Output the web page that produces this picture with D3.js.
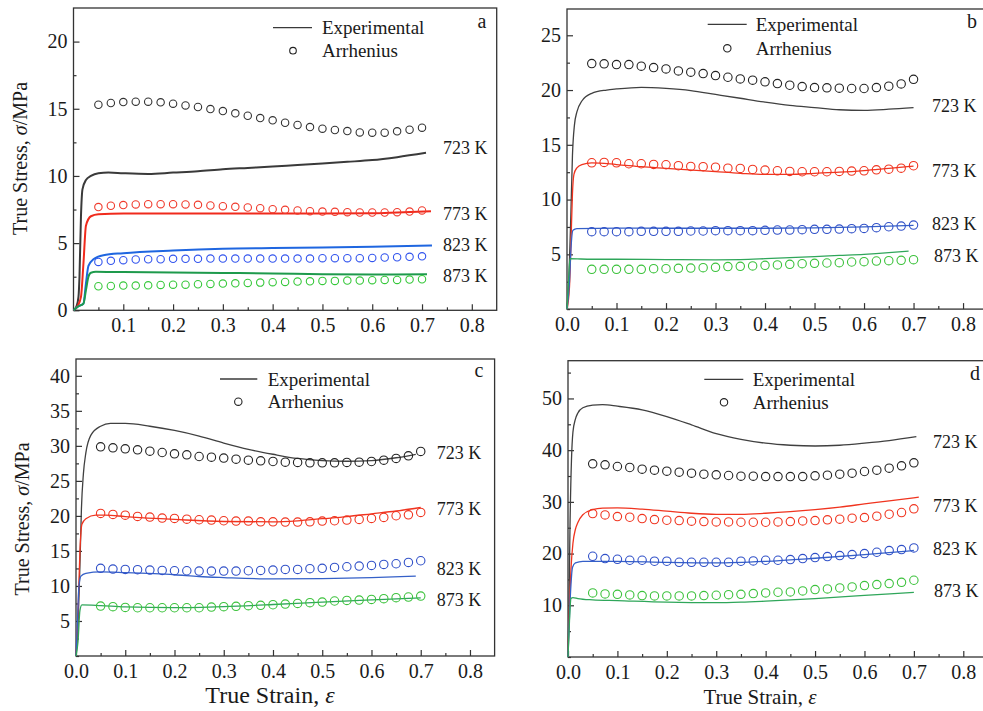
<!DOCTYPE html>
<html>
<head>
<meta charset="utf-8">
<script src="https://cdn.jsdelivr.net/npm/d3@7"></script>
<style>
  body { margin: 0; background: #fff; }
  svg { display: block; }
</style>
</head>
<body>
<div id="container"></div>
<script>
/* DATA */
const temps = ["723 K", "773 K", "823 K", "873 K"];
// strain values where the Arrhenius model was evaluated
const arrStrain = [0.05, 0.075, 0.1, 0.125, 0.15, 0.175, 0.2, 0.225, 0.25, 0.275, 0.3, 0.325, 0.35,
  0.375, 0.4, 0.425, 0.45, 0.475, 0.5, 0.525, 0.55, 0.575, 0.6, 0.625, 0.65, 0.675, 0.7];

// panel a - experimental [strain, stress]
const a_exp723 = [[0,0],[0.006,0.3],[0.01,1.0],[0.012,2.5],[0.015,7],[0.018,9],[0.025,9.7],[0.035,10.0],[0.05,10.2],[0.07,10.25],[0.1,10.2],[0.15,10.15],[0.2,10.25],[0.25,10.35],[0.3,10.5],[0.35,10.6],[0.4,10.7],[0.45,10.82],[0.5,10.93],[0.55,11.05],[0.6,11.18],[0.65,11.4],[0.708,11.72]];
const a_exp773 = [[0,0],[0.008,0.3],[0.015,1.0],[0.02,3.5],[0.025,6.3],[0.035,7.0],[0.05,7.15],[0.1,7.2],[0.2,7.2],[0.3,7.2],[0.4,7.2],[0.5,7.2],[0.6,7.22],[0.65,7.28],[0.718,7.38]];
const a_exp823 = [[0,0],[0.01,0.3],[0.02,0.5],[0.025,2.0],[0.03,3.3],[0.04,3.8],[0.06,4.1],[0.1,4.25],[0.2,4.45],[0.3,4.58],[0.4,4.63],[0.5,4.68],[0.6,4.73],[0.72,4.82]];
const a_exp873 = [[0,0],[0.01,0.3],[0.02,0.5],[0.025,1.5],[0.03,2.5],[0.035,2.8],[0.045,2.86],[0.1,2.85],[0.2,2.82],[0.3,2.78],[0.4,2.74],[0.5,2.68],[0.6,2.66],[0.71,2.68]];
// panel a - Arrhenius
const a_arr723 = [15.30,15.43,15.50,15.53,15.53,15.48,15.38,15.25,15.13,14.98,14.83,14.66,14.48,14.31,14.14,13.96,13.79,13.64,13.52,13.42,13.34,13.24,13.22,13.22,13.32,13.44,13.59];
const a_arr773 = [7.68,7.78,7.83,7.88,7.90,7.90,7.90,7.88,7.85,7.80,7.75,7.70,7.65,7.60,7.53,7.48,7.43,7.38,7.35,7.33,7.30,7.28,7.28,7.28,7.30,7.35,7.43];
const a_arr823 = [3.60,3.68,3.73,3.78,3.80,3.80,3.83,3.83,3.83,3.85,3.85,3.85,3.85,3.85,3.85,3.85,3.85,3.85,3.88,3.88,3.88,3.88,3.90,3.93,3.95,3.98,4.02];
const a_arr873 = [1.79,1.81,1.84,1.84,1.86,1.89,1.91,1.91,1.94,1.96,1.99,2.01,2.04,2.06,2.09,2.11,2.14,2.16,2.19,2.19,2.21,2.21,2.24,2.26,2.26,2.29,2.31];

// panel b
const b_exp723 = [[0,0],[0.004,3],[0.008,9],[0.011,14],[0.015,16.8],[0.02,18],[0.03,19],[0.05,19.7],[0.08,20.0],[0.1,20.1],[0.15,20.25],[0.2,20.15],[0.25,19.95],[0.3,19.6],[0.35,19.25],[0.4,18.9],[0.45,18.6],[0.5,18.4],[0.55,18.2],[0.6,18.15],[0.65,18.25],[0.7,18.4]];
const b_exp773 = [[0,0],[0.005,2],[0.008,6],[0.011,10.5],[0.014,12.3],[0.02,12.9],[0.03,13.2],[0.05,13.35],[0.1,13.2],[0.15,13.0],[0.2,12.85],[0.3,12.55],[0.35,12.4],[0.4,12.3],[0.45,12.3],[0.5,12.4],[0.55,12.5],[0.6,12.65],[0.65,12.85],[0.7,13.05]];
const b_exp823 = [[0,0],[0.005,2.5],[0.008,5.5],[0.012,7.2],[0.02,7.35],[0.1,7.4],[0.2,7.38],[0.3,7.38],[0.4,7.38],[0.5,7.42],[0.6,7.5],[0.7,7.65]];
const b_exp873 = [[0,0],[0.003,2.5],[0.006,4.6],[0.05,4.55],[0.1,4.55],[0.2,4.52],[0.3,4.5],[0.35,4.52],[0.4,4.6],[0.45,4.7],[0.5,4.8],[0.55,4.9],[0.6,5.0],[0.65,5.15],[0.69,5.3]];
const b_arr723 = [22.42,22.39,22.33,22.33,22.18,22.05,21.93,21.75,21.63,21.50,21.32,21.17,21.02,20.90,20.75,20.59,20.44,20.32,20.23,20.20,20.17,20.14,20.14,20.23,20.35,20.56,20.98];
const b_arr773 = [13.36,13.39,13.36,13.27,13.27,13.21,13.18,13.09,13.03,13.00,12.96,12.87,12.84,12.75,12.69,12.63,12.57,12.54,12.54,12.54,12.57,12.60,12.63,12.72,12.78,12.87,13.09];
const b_arr823 = [7.07,7.07,7.07,7.07,7.10,7.10,7.10,7.10,7.13,7.13,7.16,7.16,7.16,7.16,7.19,7.22,7.22,7.25,7.28,7.28,7.31,7.34,7.37,7.43,7.52,7.58,7.67];
const b_arr873 = [3.63,3.63,3.63,3.63,3.63,3.69,3.69,3.72,3.75,3.78,3.81,3.88,3.91,3.94,4.00,4.03,4.09,4.15,4.18,4.21,4.24,4.30,4.33,4.39,4.42,4.45,4.51];

// panel c
const c_exp723 = [[0,0],[0.004,4],[0.008,13],[0.011,21],[0.015,26],[0.02,29],[0.03,31.5],[0.05,32.8],[0.07,33.2],[0.1,33.2],[0.15,32.8],[0.2,32.2],[0.25,31.4],[0.3,30.4],[0.35,29.5],[0.4,28.8],[0.45,28.2],[0.5,27.9],[0.55,27.8],[0.6,27.9],[0.65,28.3],[0.69,28.8]];
const c_exp773 = [[0,0],[0.004,6],[0.008,15],[0.012,18.8],[0.02,19.6],[0.04,20.1],[0.06,20.1],[0.1,19.9],[0.2,19.5],[0.3,19.2],[0.4,19.15],[0.45,19.3],[0.5,19.6],[0.55,19.9],[0.6,20.3],[0.65,20.7],[0.7,21.2]];
const c_exp823 = [[0,0],[0.003,5],[0.006,10],[0.01,11.4],[0.02,11.8],[0.05,12.0],[0.1,11.9],[0.2,11.6],[0.25,11.35],[0.3,11.2],[0.4,11.0],[0.5,11.05],[0.6,11.2],[0.69,11.4]];
const c_exp873 = [[0,0],[0.004,2],[0.008,6.5],[0.012,7.3],[0.05,7.2],[0.1,7.0],[0.2,6.9],[0.3,7.05],[0.4,7.35],[0.5,7.7],[0.6,8.0],[0.7,8.3]];
const c_arr723 = [29.86,29.72,29.58,29.43,29.24,29.05,28.86,28.72,28.48,28.39,28.25,28.10,27.96,27.87,27.77,27.67,27.63,27.58,27.58,27.58,27.63,27.67,27.77,27.96,28.20,28.58,29.20];
const c_arr773 = [20.35,20.21,20.11,19.92,19.83,19.69,19.64,19.54,19.45,19.40,19.31,19.26,19.26,19.16,19.16,19.12,19.12,19.16,19.26,19.31,19.40,19.50,19.64,19.78,20.02,20.16,20.49];
const c_arr823 = [12.51,12.41,12.36,12.32,12.27,12.22,12.17,12.17,12.13,12.13,12.13,12.13,12.17,12.22,12.27,12.36,12.36,12.46,12.51,12.65,12.74,12.84,12.93,13.08,13.17,13.36,13.60];
const c_arr873 = [7.13,7.04,6.94,6.89,6.89,6.89,6.89,6.89,6.89,6.99,7.04,7.09,7.18,7.23,7.32,7.42,7.51,7.61,7.70,7.85,7.94,7.99,8.08,8.18,8.32,8.42,8.56];

// panel d
const d_exp723 = [[0,0],[0.002,10],[0.004,25],[0.007,38],[0.01,43.5],[0.015,46],[0.02,47.2],[0.03,48.2],[0.05,48.7],[0.07,48.8],[0.1,48.5],[0.15,47.8],[0.2,46.5],[0.25,44.9],[0.3,43.2],[0.35,42.1],[0.4,41.35],[0.45,40.95],[0.5,40.8],[0.55,40.95],[0.6,41.35],[0.65,41.85],[0.705,42.6]];
const d_exp773 = [[0,0],[0.003,10],[0.006,17],[0.01,22],[0.015,24.7],[0.02,26],[0.03,27.5],[0.05,28.5],[0.07,28.8],[0.1,28.85],[0.15,28.6],[0.2,28.2],[0.25,27.8],[0.3,27.6],[0.35,27.6],[0.4,27.8],[0.45,28.1],[0.5,28.5],[0.55,29.0],[0.6,29.6],[0.65,30.2],[0.71,30.9]];
const d_exp823 = [[0,0],[0.003,8],[0.006,14],[0.009,17.3],[0.015,18.2],[0.03,18.5],[0.1,18.5],[0.2,18.3],[0.3,18.2],[0.4,18.5],[0.5,19.1],[0.6,19.8],[0.7,20.6]];
const d_exp873 = [[0,0],[0.003,7],[0.006,11.3],[0.01,11.5],[0.02,11.3],[0.05,11.05],[0.1,10.9],[0.2,10.6],[0.3,10.5],[0.35,10.6],[0.4,10.8],[0.5,11.3],[0.6,11.9],[0.7,12.5]];
const d_arr723 = [37.35,37.16,36.84,36.65,36.32,36.13,35.94,35.74,35.55,35.35,35.23,35.10,34.97,34.97,34.90,34.90,34.90,34.90,35.03,35.16,35.35,35.55,35.87,36.13,36.52,36.97,37.55];
const d_arr773 = [27.74,27.48,27.16,27.03,26.77,26.58,26.45,26.39,26.26,26.19,26.13,26.13,26.06,26.06,26.06,26.13,26.19,26.32,26.39,26.52,26.65,26.84,26.97,27.23,27.61,27.94,28.65];
const d_arr823 = [19.48,19.03,18.90,18.71,18.71,18.52,18.52,18.32,18.32,18.32,18.32,18.32,18.52,18.58,18.71,18.71,18.84,19.03,19.23,19.42,19.61,19.81,20.00,20.26,20.58,20.77,21.10];
const d_arr873 = [12.39,12.19,12.13,12.00,11.87,11.81,11.81,11.81,11.81,11.87,11.94,12.06,12.13,12.26,12.39,12.52,12.58,12.77,13.03,13.16,13.35,13.55,13.81,14.00,14.19,14.45,14.84];

const xTicks = [0, 0.1, 0.2, 0.3, 0.4, 0.5, 0.6, 0.7, 0.8];

/* STYLES */
const SERIF = "'Liberation Serif', 'Times New Roman', serif";
const TXT = "#1a1a1a";
const lineColA = ["#3a3a3a", "#f02a1c", "#1f66e0", "#1e9a4c"];
const lineCol = ["#404040", "#f0341f", "#3560c8", "#2fa65a"];
const dotColA = ["#333333", "#f03a2c", "#3355ee", "#36c83a"];
const dotCol = ["#222222", "#f0341f", "#3050c8", "#3cc23c"];

/* PANEL LAYOUT */
const panels = [
  { name: "a", box: {l: 73.5, r: 496.7, t: 8, b: 310.3}, yMax: 22.5,
    yTicks: [0, 5, 10, 15, 20], yMinor: 2.5, xTickVals: xTicks.slice(1),
    exp: [a_exp723, a_exp773, a_exp823, a_exp873], arr: [a_arr723, a_arr773, a_arr823, a_arr873],
    lc: lineColA, dc: dotColA, lw: 2, r: 3.7,
    leg: {x1: 273, x2: 312, ly: 27.7, tx: 322, cx: 293, cy: 50.7, cr: 3.3},
    tag: {x: 482, y: 28},
    tl: {x: [443, 443, 443, 443], y: [154, 220, 251, 282]},
    ylab: {x: 20, y: 158.5} },
  { name: "b", box: {l: 567, r: 987.8, t: 9, b: 309.1}, yMax: 27.4,
    yTicks: [5, 10, 15, 20, 25], yMinor: 2.5, xTickVals: xTicks,
    exp: [b_exp723, b_exp773, b_exp823, b_exp873], arr: [b_arr723, b_arr773, b_arr823, b_arr873],
    lc: lineCol, dc: dotCol, lw: 1.3, r: 4.2,
    leg: {x1: 707.7, x2: 746.7, ly: 24.3, tx: 755.7, cx: 727.3, cy: 48.3, cr: 3.7},
    tag: {x: 972, y: 28},
    tl: {x: [932, 932, 932, 934], y: [112, 177, 229.5, 262]} },
  { name: "c", box: {l: 76, r: 494.6, t: 359, b: 656}, yMax: 42.4,
    yTicks: [5, 10, 15, 20, 25, 30, 35, 40], yMinor: 2.5, xTickVals: xTicks,
    exp: [c_exp723, c_exp773, c_exp823, c_exp873], arr: [c_arr723, c_arr773, c_arr823, c_arr873],
    lc: lineCol, dc: dotCol, lw: 1.3, r: 4.2,
    leg: {x1: 220, x2: 257.3, ly: 379, tx: 267.7, cx: 238.3, cy: 401.7, cr: 3.7},
    tag: {x: 479, y: 377},
    tl: {x: [436.7, 436.7, 436.7, 436.7], y: [458.5, 514.5, 574.5, 605.5]},
    ylab: {x: 21.7, y: 519}, xlab: {x: 270, y: 703, size: 24} },
  { name: "d", box: {l: 568, r: 988, t: 360.7, b: 657}, yMax: 57.3,
    yTicks: [10, 20, 30, 40, 50], yMinor: 5, xTickVals: xTicks,
    exp: [d_exp723, d_exp773, d_exp823, d_exp873], arr: [d_arr723, d_arr773, d_arr823, d_arr873],
    lc: lineCol, dc: dotCol, lw: 1.3, r: 4.2,
    leg: {x1: 704.3, x2: 743.3, ly: 379.3, tx: 752.7, cx: 724, cy: 402.3, cr: 3.7},
    tag: {x: 975, y: 380},
    tl: {x: [933, 933, 933, 934], y: [448, 512, 555, 597]},
    xlab: {x: 760, y: 704, size: 21} }
];

/* SVG */
const svg = d3.select("#container")
  .append("svg")
    .attr("width", 983)
    .attr("height", 711)
    .attr("font-family", SERIF);

panels.forEach(p => {
  const x = d3.scaleLinear().domain([0, 0.85]).range([p.box.l, p.box.r]);
  const y = d3.scaleLinear().domain([0, p.yMax]).range([p.box.b, p.box.t]);
  const g = svg.append("g");

  // frame
  g.append("rect")
    .attr("x", p.box.l).attr("y", p.box.t)
    .attr("width", p.box.r - p.box.l).attr("height", p.box.b - p.box.t)
    .attr("fill", "none").attr("stroke", "#333").attr("stroke-width", 1.3);

  // x axis (ticks pointing in)
  const xMinor = d3.range(0.05, 0.85, 0.1);
  g.append("g").attr("transform", "translate(0," + p.box.b + ")")
    .call(d3.axisBottom(x).tickValues(xMinor).tickSize(-3).tickFormat(""))
    .call(a => a.select(".domain").remove());
  g.append("g").attr("transform", "translate(0," + p.box.b + ")")
    .call(d3.axisBottom(x).tickValues(p.xTickVals).tickSize(-6).tickPadding(8).tickFormat(d3.format(".1f")))
    .attr("font-family", SERIF).attr("font-size", 20)
    .call(a => a.select(".domain").remove())
    .call(a => a.selectAll("text").style("font-family", SERIF).style("font-size", "20px").attr("fill", TXT));

  // y axis
  const yMinor = d3.range(0, p.yMax, p.yMinor).filter(v => !p.yTicks.includes(v));
  g.append("g").attr("transform", "translate(" + p.box.l + ",0)")
    .call(d3.axisLeft(y).tickValues(yMinor).tickSize(-3).tickFormat(""))
    .call(a => a.select(".domain").remove());
  g.append("g").attr("transform", "translate(" + p.box.l + ",0)")
    .call(d3.axisLeft(y).tickValues(p.yTicks).tickSize(-6).tickPadding(6))
    .attr("font-family", SERIF).attr("font-size", 20)
    .call(a => a.select(".domain").remove())
    .call(a => a.selectAll("text").style("font-family", SERIF).style("font-size", "20px").attr("fill", TXT));
  g.selectAll(".tick line").attr("stroke", "#333").attr("stroke-width", 1.2);

  // experimental curves
  const line = d3.line().x(d => x(d[0])).y(d => y(d[1])).curve(d3.curveMonotoneX);
  p.exp.forEach((s, i) => {
    g.append("path").datum(s)
      .attr("d", line)
      .attr("fill", "none")
      .attr("stroke", p.lc[i])
      .attr("stroke-width", p.lw);
  });

  // Arrhenius points
  p.arr.forEach((s, i) => {
    g.selectAll("circle.arr" + i)
      .data(s)
      .join("circle")
      .attr("class", "arr" + i)
      .attr("cx", (d, j) => x(arrStrain[j]))
      .attr("cy", d => y(d))
      .attr("r", p.r)
      .attr("fill", "none")
      .attr("stroke", p.dc[i])
      .attr("stroke-width", 1.1);
  });

  // temperature labels
  temps.forEach((t, i) => {
    g.append("text")
      .attr("x", p.tl.x[i]).attr("y", p.tl.y[i])
      .style("font-family", SERIF).style("font-size", "18px").attr("fill", TXT)
      .text(t);
  });

  // legend
  g.append("line")
    .attr("x1", p.leg.x1).attr("x2", p.leg.x2)
    .attr("y1", p.leg.ly).attr("y2", p.leg.ly)
    .attr("stroke", "#3a3a3a").attr("stroke-width", 1.3);
  g.append("text").attr("x", p.leg.tx).attr("y", p.leg.ly + 6.5)
    .style("font-family", SERIF).style("font-size", "19px").attr("fill", TXT)
    .text("Experimental");
  g.append("circle").attr("cx", p.leg.cx).attr("cy", p.leg.cy).attr("r", p.leg.cr)
    .attr("fill", "none").attr("stroke", "#222").attr("stroke-width", 1.1);
  g.append("text").attr("x", p.leg.tx).attr("y", p.leg.cy + 6.5)
    .style("font-family", SERIF).style("font-size", "19px").attr("fill", TXT)
    .text("Arrhenius");

  // panel tag
  g.append("text").attr("x", p.tag.x).attr("y", p.tag.y)
    .attr("text-anchor", "middle")
    .style("font-family", SERIF).style("font-size", "20px").attr("fill", TXT)
    .text(p.name);

  // axis titles
  if (p.ylab) {
    const t = g.append("text")
      .attr("transform", "translate(" + p.ylab.x + "," + p.ylab.y + ") rotate(-90)")
      .attr("text-anchor", "middle").attr("dy", "0.35em")
      .style("font-family", SERIF).style("font-size", "20px").attr("fill", TXT);
    t.append("tspan").text("True Stress, ");
    t.append("tspan").style("font-style", "italic").text("σ");
    t.append("tspan").text("/MPa");
  }
  if (p.xlab) {
    const t = g.append("text")
      .attr("x", p.xlab.x).attr("y", p.xlab.y)
      .attr("text-anchor", "middle")
      .style("font-family", SERIF).style("font-size", p.xlab.size + "px").attr("fill", TXT);
    t.append("tspan").text("True Strain, ");
    t.append("tspan").style("font-style", "italic").text("ε");
  }
});
</script>
</body>
</html>
